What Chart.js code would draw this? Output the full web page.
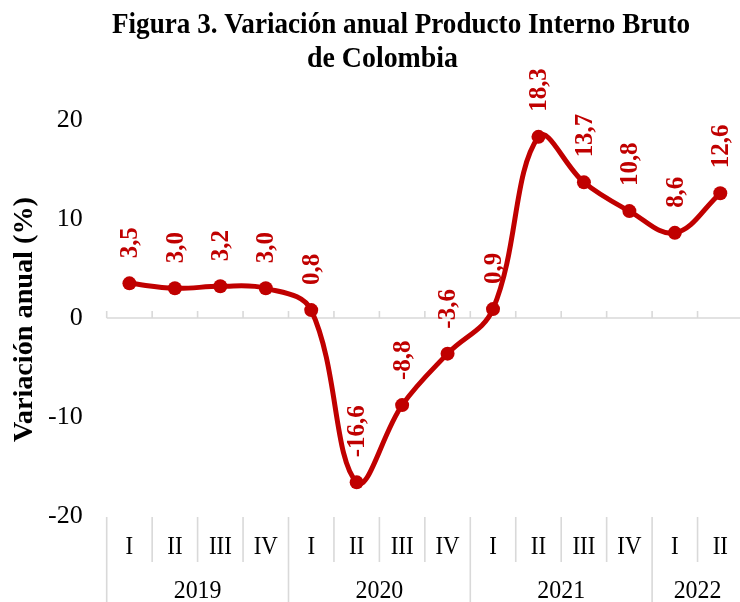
<!DOCTYPE html>
<html>
<head>
<meta charset="utf-8">
<script src="https://cdn.jsdelivr.net/npm/chart.js@4"></script>
<style>
  html, body { margin: 0; padding: 0; background: #fff; overflow: hidden; width: 740px; height: 602px; }
  #c { display: block; }
</style>
</head>
<body>
<canvas id="c" width="750" height="602"></canvas>
<script>
const quarters = ['I','II','III','IV','I','II','III','IV','I','II','III','IV','I','II'];
const years = ['2019','2020','2021','2022'];
const yearSpans = [4, 4, 4, 2];
const values = [3.5, 3.0, 3.2, 3.0, 0.8, -16.6, -8.8, -3.6, 0.9, 18.3, 13.7, 10.8, 8.6, 12.6];
const yMin = -20, yMax = 20, yStep = 10;
const titleLines = ['Figura 3. Variación anual Producto Interno Bruto', 'de Colombia'];
const yTitle = 'Variación anual (%)';

const RED = '#C00000';
const GRAY = '#d9d9d9';
const SERIF = '"Liberation Serif", "DejaVu Serif", serif';

function fitText(ctx, text, x, y, width) {
  const w = ctx.measureText(text).width;
  ctx.save();
  ctx.translate(x, y);
  ctx.scale(width / w, 1);
  ctx.fillText(text, 0, 0);
  ctx.restore();
}
function squeezeText(ctx, text, x, y, k) {
  ctx.save();
  ctx.translate(x, y);
  ctx.scale(k, 1);
  ctx.fillText(text, 0, 0);
  ctx.restore();
}

const decorPlugin = {
  id: 'decor',
  beforeDatasetsDraw(chart) {
    const ctx = chart.ctx;
    const xs = chart.scales.x, ys = chart.scales.y;
    const area = chart.chartArea;
    const y0 = ys.getPixelForValue(0);
    const half = (xs.getPixelForValue(1) - xs.getPixelForValue(0)) / 2;
    const bound = i => (i < quarters.length ? xs.getPixelForValue(i) - half : xs.getPixelForValue(i - 1) + half);
    ctx.save();
    ctx.strokeStyle = GRAY;
    ctx.lineWidth = 1.6;
    ctx.beginPath();
    ctx.moveTo(area.left, y0);
    ctx.lineTo(area.right, y0);
    for (let i = 0; i <= quarters.length; i++) {
      const bx = bound(i);
      ctx.moveTo(bx, y0);
      ctx.lineTo(bx, y0 - 7);
    }
    ctx.stroke();

    // category separators below the plot
    const yearStarts = new Set();
    let acc = 0;
    yearSpans.forEach(s => { yearStarts.add(acc); acc += s; });
    yearStarts.add(acc);
    ctx.beginPath();
    for (let i = 0; i <= quarters.length; i++) {
      const bx = bound(i);
      ctx.moveTo(bx, area.bottom + 1);
      ctx.lineTo(bx, yearStarts.has(i) ? 602 : area.bottom + 46);
    }
    ctx.stroke();

    // quarter labels
    ctx.fillStyle = '#000';
    ctx.font = '26px ' + SERIF;
    ctx.textAlign = 'center';
    ctx.textBaseline = 'middle';
    quarters.forEach((q, i) => squeezeText(ctx, q, xs.getPixelForValue(i), area.bottom + 31, 0.88));
    // year labels
    acc = 0;
    years.forEach((yr, k) => {
      const a = bound(acc);
      const b = bound(acc + yearSpans[k]);
      squeezeText(ctx, yr, (a + b) / 2, area.bottom + 75, 0.92);
      acc += yearSpans[k];
    });
    ctx.restore();
  },
  afterDatasetsDraw(chart) {
    const ctx = chart.ctx;
    const meta = chart.getDatasetMeta(0);
    ctx.save();
    ctx.fillStyle = RED;
    ctx.font = 'bold 26px ' + SERIF;
    ctx.textAlign = 'left';
    ctx.textBaseline = 'middle';
    meta.data.forEach((pt, i) => {
      const txt = values[i].toFixed(1).replace('.', ',');
      ctx.save();
      ctx.translate(pt.x + 1, pt.y - 25);
      ctx.rotate(-Math.PI / 2);
      ctx.scale(0.96, 1);
      ctx.fillText(txt, 0, 0);
      ctx.restore();
    });
    ctx.restore();
  },
  afterDraw(chart) {
    const ctx = chart.ctx;
    ctx.save();
    ctx.fillStyle = '#000';
    ctx.textAlign = 'center';
    ctx.textBaseline = 'alphabetic';
    ctx.font = 'bold 29px ' + SERIF;
    fitText(ctx, titleLines[0], 401, 33, 578);
    fitText(ctx, titleLines[1], 382.5, 67, 151);
    // y axis title
    ctx.font = 'bold 28px ' + SERIF;
    ctx.textBaseline = 'middle';
    ctx.save();
    ctx.translate(25, 319.5);
    ctx.rotate(-Math.PI / 2);
    fitText(ctx, yTitle, 0, 0, 245);
    ctx.restore();
    ctx.restore();
  }
};

new Chart(document.getElementById('c'), {
  type: 'line',
  data: {
    labels: quarters,
    datasets: [{
      data: values,
      borderColor: RED,
      backgroundColor: RED,
      borderWidth: 5,
      tension: 0.38,
      pointRadius: 7,
      pointBackgroundColor: RED,
      pointBorderColor: RED,
      pointBorderWidth: 0,
      clip: false
    }]
  },
  options: {
    responsive: false,
    animation: false,
    devicePixelRatio: 1,
    layout: { padding: { left: 0, top: 120, right: 6.3, bottom: 86 } },
    plugins: { legend: { display: false }, title: { display: false }, tooltip: { enabled: false } },
    scales: {
      x: {
        display: false,
        offset: true
      },
      y: {
        min: yMin,
        max: yMax,
        afterFit(scale) { scale.width = 106.7; },
        grid: { display: false, drawTicks: false },
        border: { display: false },
        ticks: {
          stepSize: yStep,
          color: '#000',
          padding: 24,
          font: { family: SERIF, size: 26 }
        }
      }
    }
  },
  plugins: [decorPlugin]
});
</script>
</body>
</html>
